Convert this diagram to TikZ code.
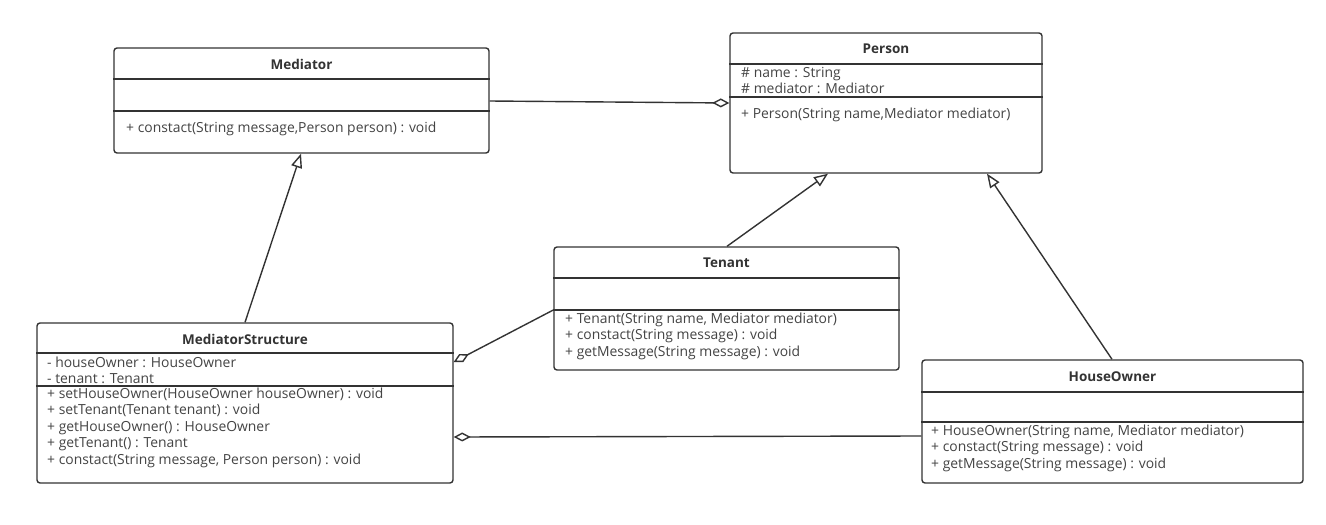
\documentclass[tikz,border=0pt]{standalone}
\usepackage{fontspec}
\setmainfont{Open Sans}
\usetikzlibrary{arrows.meta,calc}
\definecolor{ln}{HTML}{333333}
\definecolor{tx}{HTML}{444444}
\begin{document}
\begin{tikzpicture}[x=1pt,y=-1pt,
  cls/.style={draw=ln, line width=1.4pt, rounded corners=3pt, inner sep=0pt, fill=white},
  ctitle/.style={font=\bfseries\fontsize{13.5}{15}\selectfont, text=ln, inner sep=0pt},
  mem/.style={anchor=west, font=\fontsize{13.9}{15}\selectfont, text=tx, inner sep=0pt, text height=10pt, text depth=3pt},
  sep/.style={draw=ln, line width=1.4pt},
  conn/.style={draw=ln, line width=1.4pt},
  gen/.style={conn, -{Triangle[open, length=14pt, width=11pt]}},
  agg/.style={conn, {Diamond[open, length=17pt, width=9pt]}-},
]
\useasboundingbox[fill=white] (0,0) rectangle (1326,525);

% class boxes
\node[cls, minimum width=375pt, minimum height=105pt] (med) at (301.5,100.5) {};
\node[cls, minimum width=312pt, minimum height=140pt] (per) at (886,103) {};
\node[cls, minimum width=416pt, minimum height=160pt] (ms) at (245,403) {};
\node[cls, minimum width=345pt, minimum height=123pt] (ten) at (726.5,308.5) {};
\node[cls, minimum width=381pt, minimum height=123pt] (ho) at (1112.5,421.5) {};

% dividers
\draw[sep] (med.west |- 0,79) -- (med.east |- 0,79);
\draw[sep] (med.west |- 0,111) -- (med.east |- 0,111);
\draw[sep] (per.west |- 0,64) -- (per.east |- 0,64);
\draw[sep] (per.west |- 0,97) -- (per.east |- 0,97);
\draw[sep] (ms.west |- 0,353) -- (ms.east |- 0,353);
\draw[sep] (ms.west |- 0,386) -- (ms.east |- 0,386);
\draw[sep] (ten.west |- 0,278) -- (ten.east |- 0,278);
\draw[sep] (ten.west |- 0,310) -- (ten.east |- 0,310);
\draw[sep] (ho.west |- 0,392) -- (ho.east |- 0,392);
\draw[sep] (ho.west |- 0,422) -- (ho.east |- 0,422);

% titles
\node[ctitle] (medT) at (301.5,64) {Mediator};
\node[ctitle] (perT) at (886,49) {Person};
\node[ctitle] (msT) at (245,339) {MediatorStructure};
\node[ctitle] (tenT) at (726.5,263) {Tenant};
\node[ctitle] (hoT) at (1112.5,377) {HouseOwner};

% members
\node[mem] (m1) at (126,129) {+ constact(String message,Person person) : void};

\node[mem] (p1) at (741,74) {\# name : String};
\node[mem] (p2) at (741,90) {\# mediator : Mediator};
\node[mem] (p3) at (741,115) {+ Person(String name,Mediator mediator)};

\node[mem] (s1) at (47,364) {- houseOwner : HouseOwner};
\node[mem] (s2) at (47,380) {- tenant : Tenant};
\node[mem] (s3) at (47,395) {+ setHouseOwner(HouseOwner houseOwner) : void};
\node[mem] (s4) at (47,411) {+ setTenant(Tenant tenant) : void};
\node[mem] (s5) at (47,428) {+ getHouseOwner() : HouseOwner};
\node[mem] (s6) at (47,444) {+ getTenant() : Tenant};
\node[mem] (s7) at (47,461) {+ constact(String message, Person person) : void};

\node[mem] (t1) at (565,320) {+ Tenant(String name, Mediator mediator)};
\node[mem] (t2) at (565,336) {+ constact(String message) : void};
\node[mem] (t3) at (565,353) {+ getMessage(String message) : void};

\node[mem] (h1) at (931,432) {+ HouseOwner(String name, Mediator mediator)};
\node[mem] (h2) at (931,448) {+ constact(String message) : void};
\node[mem] (h3) at (931,465) {+ getMessage(String message) : void};

% connectors
\draw[agg] (per.west |- 0,103) -- (med.east |- 0,101);
\draw[gen] (ms.north -| 245,0) -- (med.south -| 301,0);
\draw[gen] (ten.north -| 727,0) -- (per.south -| 828,0);
\draw[gen] (ho.north -| 1112,0) -- (per.south -| 987,0);
\draw[agg] (ms.east |- 0,362) -- (ten.west |- 0,310);
\draw[agg] (ms.east |- 0,437) -- (ho.west |- 0,436);
\end{tikzpicture}
\end{document}
